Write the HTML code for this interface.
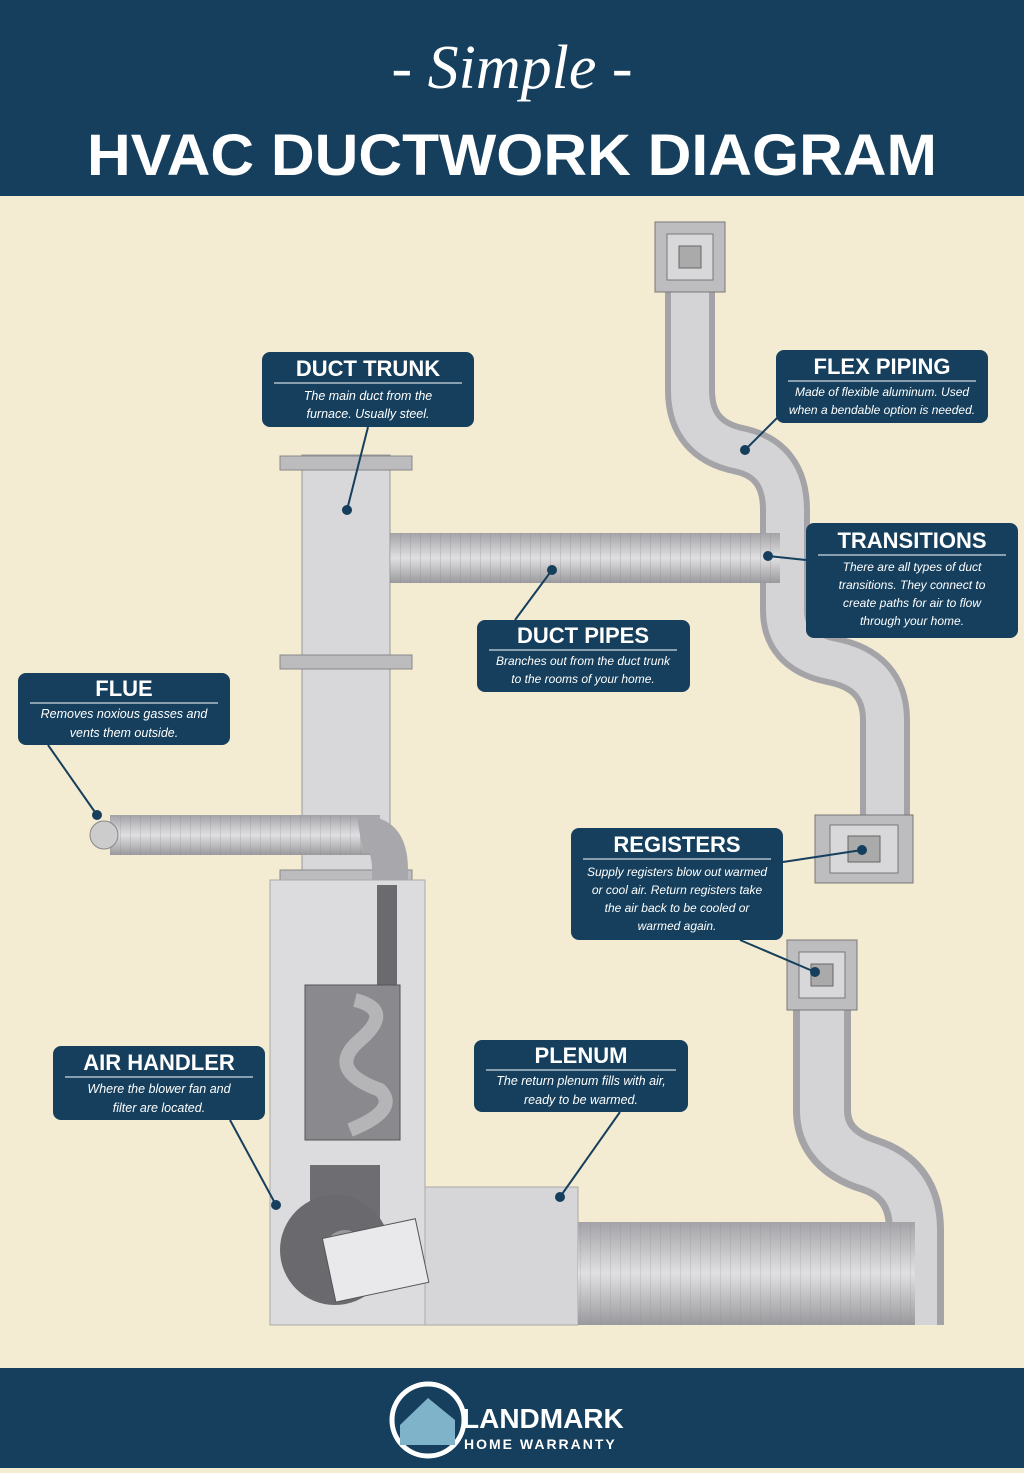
<!DOCTYPE html>
<html><head><meta charset="utf-8"><style>
body{margin:0;width:1024px;height:1468px;overflow:hidden;background:#f4ebd3;font-family:"Liberation Sans",sans-serif}
</style></head><body>
<svg width="1024" height="1468" viewBox="0 0 1024 1468" xmlns="http://www.w3.org/2000/svg">
<defs>
<linearGradient id="ph" x1="0" y1="0" x2="0" y2="1"><stop offset="0" stop-color="#a4a4a8"/><stop offset=".5" stop-color="#e0e0e2"/><stop offset="1" stop-color="#9a9a9e"/></linearGradient>
<pattern id="rib" width="10" height="6" patternUnits="userSpaceOnUse"><line x1="0" y1="0" x2="0" y2="6" stroke="#8a8a8e" stroke-width="1.2"/></pattern>
</defs>
<rect x="0" y="0" width="1024" height="196" fill="#153f5c"/>
<text x="512" y="88" text-anchor="middle" fill="#fff" font-family="Liberation Serif,serif" font-style="italic" font-size="62">- Simple -</text>
<text x="512" y="175" text-anchor="middle" fill="#fff" font-weight="bold" font-size="58" textLength="850" lengthAdjust="spacingAndGlyphs">HVAC DUCTWORK DIAGRAM</text>
<rect x="0" y="1368" width="1024" height="100" fill="#153f5c"/>
<circle cx="428" cy="1420" r="36" fill="none" stroke="#fff" stroke-width="5"/>
<path d="M400 1425 L428 1398 L455 1420 L455 1445 L400 1445Z" fill="#7fb3c9"/>
<text x="462" y="1428" fill="#fff" font-weight="bold" font-size="28">LANDMARK</text>
<text x="464" y="1449" fill="#fff" font-weight="bold" font-size="14" letter-spacing="2">HOME WARRANTY</text>

<g fill="none" stroke-linecap="butt">
<path d="M690 290 L690 390 Q690 440 740 450 Q785 460 785 510 L785 610 Q785 650 830 660 Q885 670 885 720 L885 815" stroke="#a4a4a8" stroke-width="50"/>
<path d="M690 290 L690 390 Q690 440 740 450 Q785 460 785 510 L785 610 Q785 650 830 660 Q885 670 885 720 L885 815" stroke="#d4d4d6" stroke-width="38"/>
<path d="M822 1005 L822 1110 Q822 1150 870 1165 Q915 1180 915 1230 L915 1325" stroke="#a4a4a8" stroke-width="58"/>
<path d="M822 1005 L822 1110 Q822 1150 870 1165 Q915 1180 915 1230 L915 1325" stroke="#d4d4d6" stroke-width="44"/>
</g>
<rect x="655" y="222" width="70" height="70" fill="#bdbdc0" stroke="#777"/>
<rect x="667" y="234" width="46" height="46" fill="#d8d8da" stroke="#777"/>
<rect x="679" y="246" width="22" height="22" fill="#aaa" stroke="#666"/>
<rect x="815" y="815" width="98" height="68" fill="#bdbdc0" stroke="#777"/>
<rect x="830" y="825" width="68" height="48" fill="#d8d8da" stroke="#777"/>
<rect x="848" y="836" width="32" height="26" fill="#aaa" stroke="#666"/>
<rect x="787" y="940" width="70" height="70" fill="#bdbdc0" stroke="#777"/>
<rect x="799" y="952" width="46" height="46" fill="#d8d8da" stroke="#777"/>
<rect x="811" y="964" width="22" height="22" fill="#aaa" stroke="#666"/>

<rect x="302" y="455" width="88" height="425" fill="#d8d8da" stroke="#999"/>
<rect x="280" y="456" width="132" height="14" fill="#bcbcbf" stroke="#888"/>
<rect x="280" y="655" width="132" height="14" fill="#bcbcbf" stroke="#888"/>
<rect x="280" y="870" width="132" height="12" fill="#bcbcbf" stroke="#888"/>
<rect x="390" y="533" width="390" height="50" fill="url(#ph)"/>
<rect x="390" y="533" width="390" height="50" fill="url(#rib)" opacity=".45"/>
<rect x="110" y="815" width="270" height="40" fill="url(#ph)"/>
<rect x="110" y="815" width="270" height="40" fill="url(#rib)" opacity=".4"/>
<circle cx="104" cy="835" r="14" fill="#ccc" stroke="#888"/>
<path d="M360 835 Q390 830 390 870 L390 880" fill="none" stroke="#a8a8ac" stroke-width="36"/>
<rect x="270" y="880" width="155" height="445" fill="#dcdcde" stroke="#aaa"/>
<rect x="425" y="1187" width="153" height="138" fill="#d6d6d8" stroke="#aaa"/>
<rect x="377" y="885" width="20" height="100" fill="#6b6b6f"/>
<rect x="305" y="985" width="95" height="155" fill="#8a8a8e" stroke="#555"/>
<path d="M355 1000 Q395 1010 360 1040 Q325 1070 380 1090 Q400 1110 350 1130" fill="none" stroke="#b5b5b8" stroke-width="14"/>
<rect x="310" y="1165" width="70" height="60" fill="#6e6e72"/>
<circle cx="335" cy="1250" r="55" fill="#6a6a6e"/>
<circle cx="345" cy="1250" r="20" fill="#9a9a9e"/>
<rect x="328" y="1228" width="95" height="65" fill="#e9e9eb" stroke="#555" transform="rotate(-12 375 1260)"/>
<rect x="578" y="1222" width="337" height="103" fill="url(#ph)"/>
<rect x="578" y="1222" width="337" height="103" fill="url(#rib)" opacity=".35"/>

<g stroke="#153f5c" stroke-width="2" fill="#153f5c">
<line x1="368" y1="427" x2="347" y2="510"/><circle cx="347" cy="510" r="4"/>
<line x1="790" y1="405" x2="745" y2="450"/><circle cx="745" cy="450" r="4"/>
<line x1="806" y1="560" x2="768" y2="556"/><circle cx="768" cy="556" r="4"/>
<line x1="515" y1="620" x2="552" y2="570"/><circle cx="552" cy="570" r="4"/>
<line x1="48" y1="745" x2="97" y2="815"/><circle cx="97" cy="815" r="4"/>
<line x1="783" y1="862" x2="862" y2="850"/><circle cx="862" cy="850" r="4"/>
<line x1="740" y1="940" x2="815" y2="972"/><circle cx="815" cy="972" r="4"/>
<line x1="230" y1="1120" x2="276" y2="1205"/><circle cx="276" cy="1205" r="4"/>
<line x1="620" y1="1112" x2="560" y2="1197"/><circle cx="560" cy="1197" r="4"/>
</g>

<g font-family="Liberation Sans,sans-serif">
<g transform="translate(262,352)"><rect width="212" height="75" rx="8" fill="#153f5c"/><text x="106" y="24" text-anchor="middle" fill="#fff" font-weight="bold" font-size="22">DUCT TRUNK</text><line x1="12" y1="31" x2="200" y2="31" stroke="#fff"/><text x="106" y="48" text-anchor="middle" fill="#fff" font-style="italic" font-size="12.5">The main duct from the</text><text x="106" y="66" text-anchor="middle" fill="#fff" font-style="italic" font-size="12.5">furnace. Usually steel.</text></g>
<g transform="translate(776,350)"><rect width="212" height="73" rx="8" fill="#153f5c"/><text x="106" y="24" text-anchor="middle" fill="#fff" font-weight="bold" font-size="22">FLEX PIPING</text><line x1="12" y1="31" x2="200" y2="31" stroke="#fff"/><text x="106" y="46" text-anchor="middle" fill="#fff" font-style="italic" font-size="12">Made of flexible aluminum. Used</text><text x="106" y="64" text-anchor="middle" fill="#fff" font-style="italic" font-size="12">when a bendable option is needed.</text></g>
<g transform="translate(806,523)"><rect width="212" height="115" rx="8" fill="#153f5c"/><text x="106" y="25" text-anchor="middle" fill="#fff" font-weight="bold" font-size="22">TRANSITIONS</text><line x1="12" y1="32" x2="200" y2="32" stroke="#fff"/><text x="106" y="48" text-anchor="middle" fill="#fff" font-style="italic" font-size="12">There are all types of duct</text><text x="106" y="66" text-anchor="middle" fill="#fff" font-style="italic" font-size="12">transitions. They connect to</text><text x="106" y="84" text-anchor="middle" fill="#fff" font-style="italic" font-size="12">create paths for air to flow</text><text x="106" y="102" text-anchor="middle" fill="#fff" font-style="italic" font-size="12">through your home.</text></g>
<g transform="translate(477,620)"><rect width="213" height="72" rx="8" fill="#153f5c"/><text x="106" y="23" text-anchor="middle" fill="#fff" font-weight="bold" font-size="22">DUCT PIPES</text><line x1="12" y1="30" x2="200" y2="30" stroke="#fff"/><text x="106" y="45" text-anchor="middle" fill="#fff" font-style="italic" font-size="12">Branches out from the duct trunk</text><text x="106" y="63" text-anchor="middle" fill="#fff" font-style="italic" font-size="12">to the rooms of your home.</text></g>
<g transform="translate(18,673)"><rect width="212" height="72" rx="8" fill="#153f5c"/><text x="106" y="23" text-anchor="middle" fill="#fff" font-weight="bold" font-size="22">FLUE</text><line x1="12" y1="30" x2="200" y2="30" stroke="#fff"/><text x="106" y="45" text-anchor="middle" fill="#fff" font-style="italic" font-size="12.5">Removes noxious gasses and</text><text x="106" y="64" text-anchor="middle" fill="#fff" font-style="italic" font-size="12.5">vents them outside.</text></g>
<g transform="translate(571,828)"><rect width="212" height="112" rx="8" fill="#153f5c"/><text x="106" y="24" text-anchor="middle" fill="#fff" font-weight="bold" font-size="22">REGISTERS</text><line x1="12" y1="31" x2="200" y2="31" stroke="#fff"/><text x="106" y="48" text-anchor="middle" fill="#fff" font-style="italic" font-size="12">Supply registers blow out warmed</text><text x="106" y="66" text-anchor="middle" fill="#fff" font-style="italic" font-size="12">or cool air. Return registers take</text><text x="106" y="84" text-anchor="middle" fill="#fff" font-style="italic" font-size="12">the air back to be cooled or</text><text x="106" y="102" text-anchor="middle" fill="#fff" font-style="italic" font-size="12">warmed again.</text></g>
<g transform="translate(53,1046)"><rect width="212" height="74" rx="8" fill="#153f5c"/><text x="106" y="24" text-anchor="middle" fill="#fff" font-weight="bold" font-size="22">AIR HANDLER</text><line x1="12" y1="31" x2="200" y2="31" stroke="#fff"/><text x="106" y="47" text-anchor="middle" fill="#fff" font-style="italic" font-size="12.5">Where the blower fan and</text><text x="106" y="66" text-anchor="middle" fill="#fff" font-style="italic" font-size="12.5">filter are located.</text></g>
<g transform="translate(474,1040)"><rect width="214" height="72" rx="8" fill="#153f5c"/><text x="107" y="23" text-anchor="middle" fill="#fff" font-weight="bold" font-size="22">PLENUM</text><line x1="12" y1="30" x2="202" y2="30" stroke="#fff"/><text x="107" y="45" text-anchor="middle" fill="#fff" font-style="italic" font-size="12.5">The return plenum fills with air,</text><text x="107" y="64" text-anchor="middle" fill="#fff" font-style="italic" font-size="12.5">ready to be warmed.</text></g>
</g>
</svg>
</body></html>
